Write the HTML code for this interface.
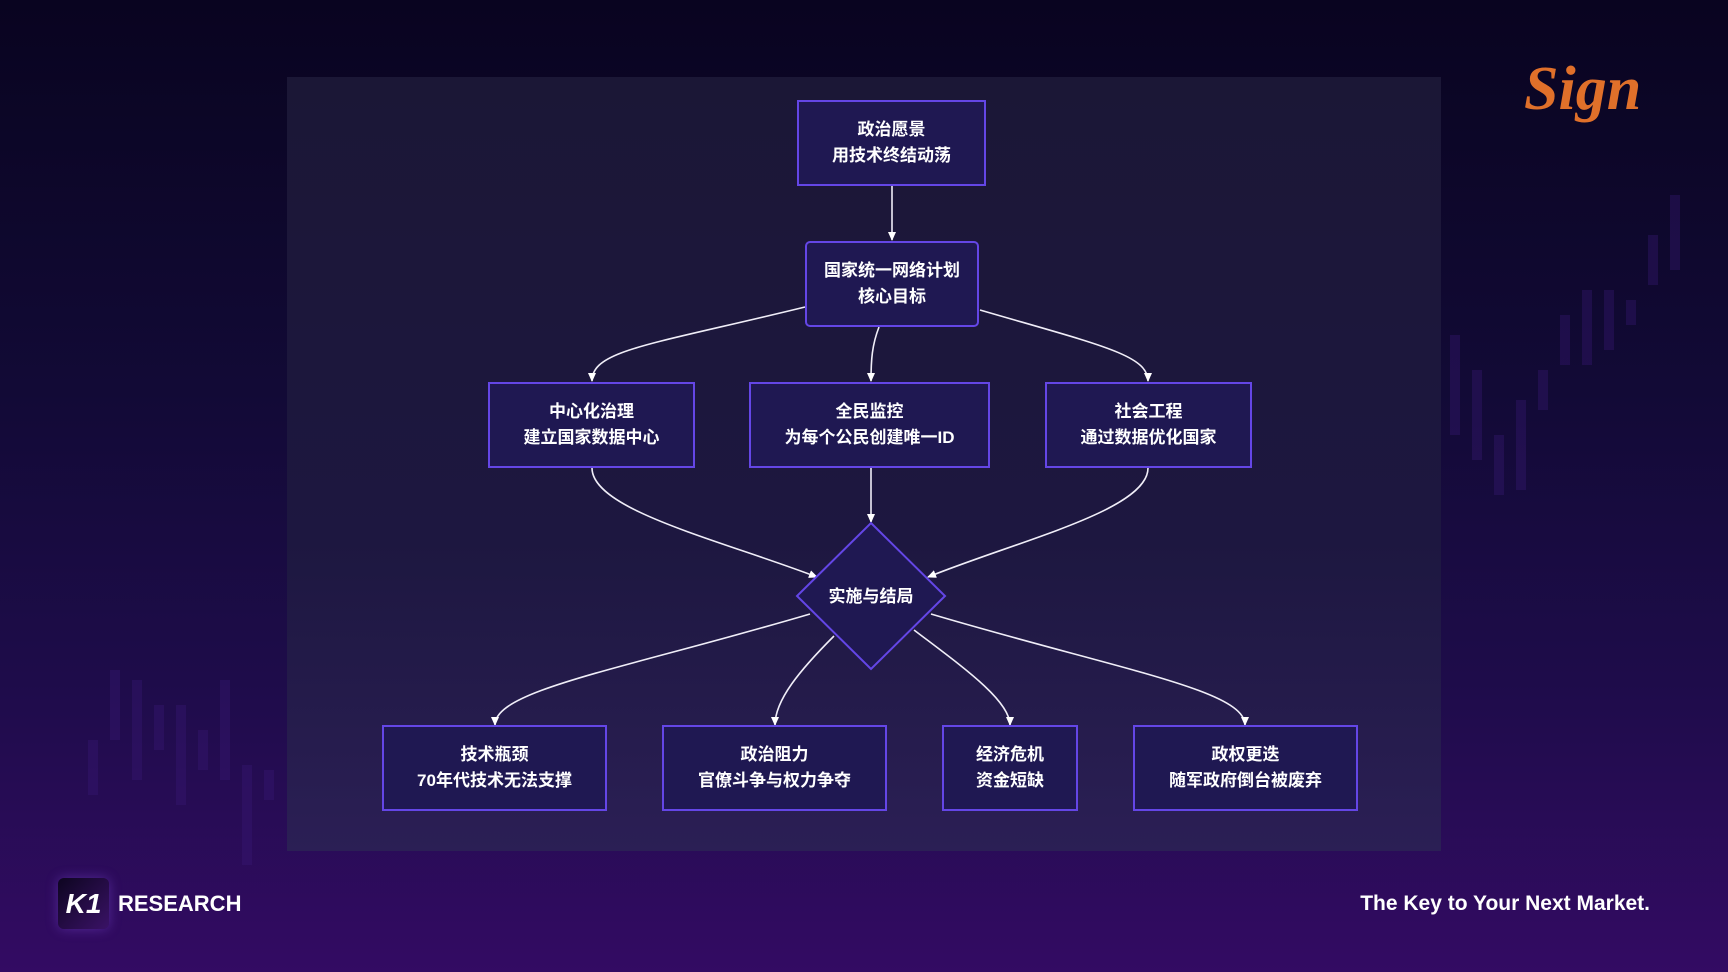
<!DOCTYPE html>
<html><head><meta charset="utf-8"><style>
html,body{margin:0;padding:0;}
body{width:1728px;height:972px;position:relative;overflow:hidden;
background:linear-gradient(180deg,#090420 0%,#120a36 40%,#1e0c4a 70%,#330b63 100%);
font-family:"Liberation Sans","Noto Sans CJK SC",sans-serif;}
.panel{position:absolute;left:287px;top:77px;width:1154px;height:774px;
background:linear-gradient(180deg,#1b1736 0%,#1d1740 60%,#2b1f55 100%);}
.box{position:absolute;box-sizing:border-box;border:2px solid #6446e6;background:#1f1852;
color:#fff;font-weight:bold;font-size:17px;line-height:26px;text-align:center;
display:flex;flex-direction:column;justify-content:center;}
.txt{position:absolute;color:#fff;font-weight:bold;}
</style></head><body>
<svg width="1728" height="972" style="position:absolute;left:0;top:0">
<g fill="#3a1a78" opacity="0.35">
<rect x="1450" y="335" width="10" height="100"/><rect x="1472" y="370" width="10" height="90"/>
<rect x="1494" y="435" width="10" height="60"/><rect x="1516" y="400" width="10" height="90"/>
<rect x="1538" y="370" width="10" height="40"/><rect x="1560" y="315" width="10" height="50"/>
<rect x="1582" y="290" width="10" height="75"/><rect x="1604" y="290" width="10" height="60"/>
<rect x="1626" y="300" width="10" height="25"/><rect x="1648" y="235" width="10" height="50"/>
<rect x="1670" y="195" width="10" height="75"/>
<rect x="88" y="740" width="10" height="55"/><rect x="110" y="670" width="10" height="70"/>
<rect x="132" y="680" width="10" height="100"/><rect x="154" y="705" width="10" height="45"/>
<rect x="176" y="705" width="10" height="100"/><rect x="198" y="730" width="10" height="40"/>
<rect x="220" y="680" width="10" height="100"/><rect x="242" y="765" width="10" height="100"/>
<rect x="264" y="770" width="10" height="30"/>
</g>
</svg>
<div class="panel"></div>
<svg width="1728" height="972" style="position:absolute;left:0;top:0">
<defs><marker id="a" markerWidth="10" markerHeight="10" refX="8" refY="5" orient="auto" markerUnits="userSpaceOnUse">
<path d="M0,1 L9,5 L0,9 z" fill="#fff"/></marker></defs>
<g stroke="#f0eef8" stroke-width="1.6" fill="none" marker-end="url(#a)">
<path d="M892 186 L892 240"/>
<path d="M805 307 C 650 345, 592 350, 592 381"/>
<path d="M879 327 C 872 345, 871 360, 871 381"/>
<path d="M980 310 C 1100 345, 1148 355, 1148 381"/>
<path d="M592 468 C 592 510, 720 540, 817 577"/>
<path d="M871 468 L871 522"/>
<path d="M1148 468 C 1148 510, 1020 540, 928 577"/>
<path d="M810 614 C 620 670, 495 690, 495 725"/>
<path d="M834 636 C 800 670, 775 700, 775 725"/>
<path d="M914 630 C 960 665, 1010 700, 1010 725"/>
<path d="M931 614 C 1120 670, 1245 690, 1245 725"/>
</g>
<polygon points="871,523 945,596 871,669 797,596" fill="#1f1852" stroke="#6446e6" stroke-width="2"/>
<text x="871" y="602" fill="#fff" font-size="17" font-weight="bold" text-anchor="middle" font-family="Liberation Sans, Noto Sans CJK SC, sans-serif">实施与结局</text>
</svg>
<div class="box" style="left:797px;top:100px;width:189px;height:86px">政治愿景<br>用技术终结动荡</div>
<div class="box" style="left:805px;top:241px;width:174px;height:86px;border-radius:5px">国家统一网络计划<br>核心目标</div>
<div class="box" style="left:488px;top:382px;width:207px;height:86px">中心化治理<br>建立国家数据中心</div>
<div class="box" style="left:749px;top:382px;width:241px;height:86px">全民监控<br>为每个公民创建唯一ID</div>
<div class="box" style="left:1045px;top:382px;width:207px;height:86px">社会工程<br>通过数据优化国家</div>
<div class="box" style="left:382px;top:725px;width:225px;height:86px">技术瓶颈<br>70年代技术无法支撑</div>
<div class="box" style="left:662px;top:725px;width:225px;height:86px">政治阻力<br>官僚斗争与权力争夺</div>
<div class="box" style="left:942px;top:725px;width:136px;height:86px">经济危机<br>资金短缺</div>
<div class="box" style="left:1133px;top:725px;width:225px;height:86px">政权更迭<br>随军政府倒台被废弃</div>
<div style="position:absolute;left:58px;top:878px;width:51px;height:51px;border-radius:6px;background:linear-gradient(135deg,#0d0520,#3a1266);box-shadow:0 0 12px rgba(150,90,255,.35);color:#fff;font-weight:900;font-size:28px;line-height:51px;text-align:center;font-style:italic">K1</div>
<div class="txt" style="left:118px;top:891px;font-size:22px">RESEARCH</div>
<div class="txt" style="right:78px;top:892px;font-size:21px">The Key to Your Next Market.</div>
<div style="position:absolute;left:1524px;top:54px;font-family:'Liberation Serif',serif;font-style:italic;font-size:62px;color:#e0702a;font-weight:bold">Sign</div>
</body></html>
